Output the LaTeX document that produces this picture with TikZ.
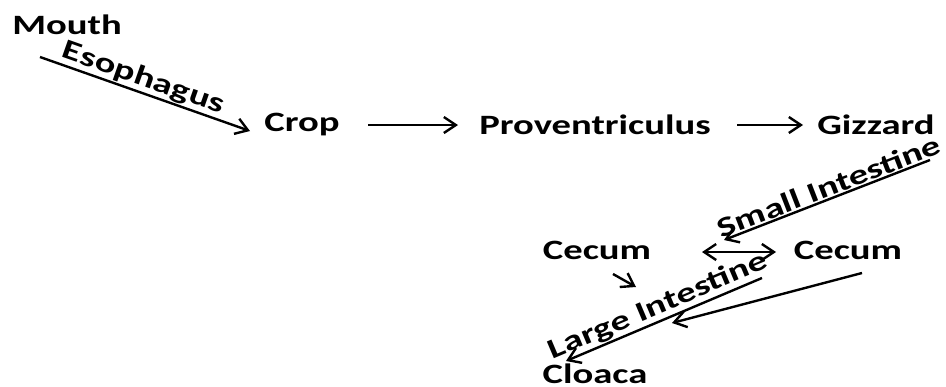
\documentclass[tikz,border=0pt]{standalone}
\usepackage{fontspec}
\setmainfont{Carlito}[FakeStretch=1.38]
\usetikzlibrary{arrows.meta}

\begin{document}
\begin{tikzpicture}[x=1pt,y=-1pt]
\tikzstyle{every node}+=[inner sep=0pt, font=\bfseries\fontsize{28}{30}\selectfont]
\tikzstyle{tube}=[line width=2.4pt, -{Straight Barb[length=12pt,width=16pt,line width=2.4pt]}]
\tikzstyle{tubelabel}=[sloped, above, midway, inner sep=1pt]
\useasboundingbox (0,0) rectangle (946,386);
% organs
\node (mouth) at (67,25) {Mouth};
\node (crop) at (302,125) {Crop};
\node (prov) at (595,125) {Proventriculus};
\node (gizzard) at (876,125) {Gizzard};
\node (cecumL) at (597,250) {Cecum};
\node (cecumR) at (848,250) {Cecum};
\node [anchor=base] (cloaca) at (595,383) {Cloaca};
% free ends
\coordinate (esoS) at (40,57);
\coordinate (esoE) at (250,131);
\coordinate (siS) at (930,160);
\coordinate (siE) at (724,240);
\coordinate (liS) at (762,278);
\coordinate (liE) at (566,361);
\coordinate (ccS) at (862,273);
\coordinate (ccE) at (672,323);
\coordinate (clS) at (613,274);
\coordinate (clE) at (636,287);
\coordinate (dbS) at (702,252);
\coordinate (dbE) at (776,252);
% tract
\draw [tube] (esoS) -- (esoE) node [tubelabel, pos=0.47] {Esophagus};
\draw [tube] (crop) ++(66,0) -- ++(90,0);
\draw [tube] (prov) ++(142,0) -- ++(66,0);
\draw [tube] (siS) -- (siE) node [tubelabel, pos=0.47] {Small Intestine};
\draw [tube, {Straight Barb[length=12pt,width=16pt,line width=2.4pt]}-{Straight Barb[length=12pt,width=16pt,line width=2.4pt]}] (dbS) -- (dbE);
\draw [tube] (clS) -- (clE);
\draw [tube] (liS) -- (liE) node [tubelabel, pos=0.5] {Large Intestine};
\draw [tube] (ccS) -- (ccE);
\end{tikzpicture}
\end{document}
